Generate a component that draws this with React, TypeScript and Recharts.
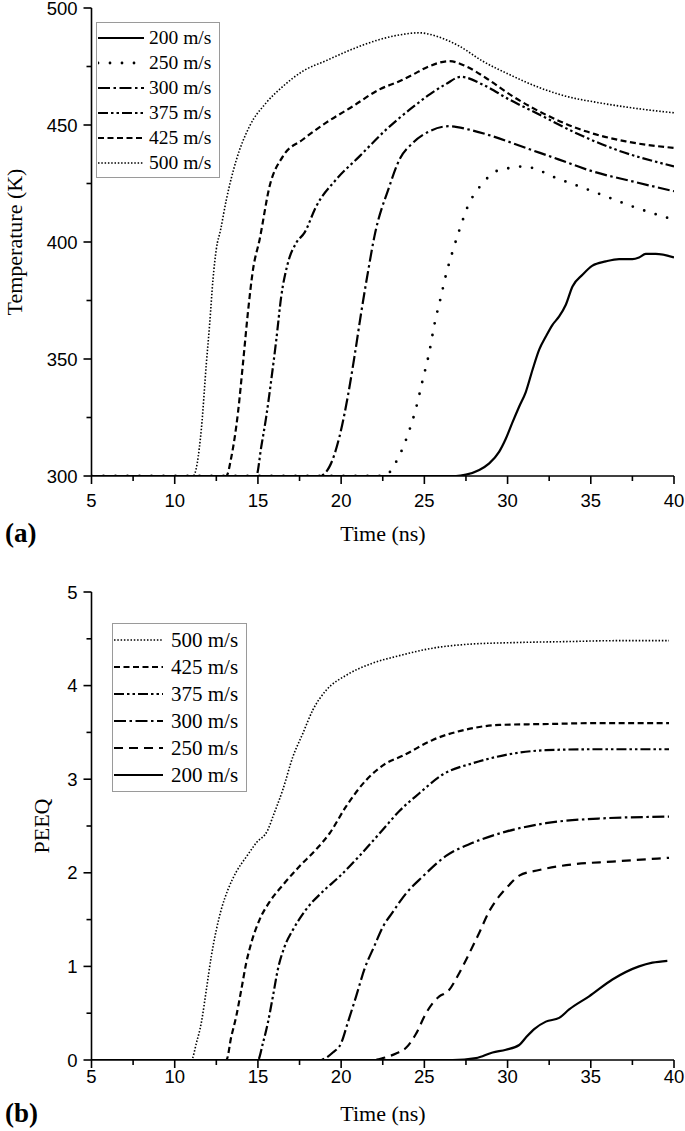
import React from "react";
import { LineChart, Line, XAxis, YAxis, Legend, Label } from "recharts";

type Pt = [number, number];

// ticks
const timeMajorTicks = [5, 10, 15, 20, 25, 30, 35, 40];
const timeMinorTicks = [7.5, 12.5, 17.5, 22.5, 27.5, 32.5, 37.5];
const tempMajorTicks = [300, 350, 400, 450, 500];
const tempMinorTicks = [325, 375, 425, 475];
const peeqMajorTicks = [0, 1, 2, 3, 4, 5];
const peeqMinorTicks = [0.5, 1.5, 2.5, 3.5, 4.5];

// (a) temperature vs time, [ns, K]
const temp200: Pt[] = [
  [5, 300], [26.9, 300], [27.5, 300.6], [28.3, 302.6], [28.9, 305.4], [29.5, 310.4], [29.9, 316],
  [30.3, 323], [30.7, 329.7], [31.1, 336], [31.5, 345.4], [31.9, 354], [32.3, 359.6], [32.7, 364.6],
  [33.1, 368.2], [33.5, 373.2], [33.9, 381], [34.5, 386], [35.1, 389.9], [35.9, 391.7], [36.7, 392.7],
  [37.5, 392.7], [37.9, 393.4], [38.3, 394.9], [38.9, 394.9], [40, 393.4],
];
const temp250: Pt[] = [
  [5, 300], [22.6, 300], [23.3, 306], [24.0, 317.5], [24.5, 329], [24.9, 341], [25.3, 353], [25.6, 364.6],
  [26.0, 376.7], [26.3, 386], [26.7, 396], [27.1, 405], [27.7, 416.7], [28.2, 422.4], [28.7, 426.7],
  [29.3, 430.2], [30.2, 431.7], [31.0, 432.3], [31.8, 430.9], [32.7, 428], [34.3, 423.8], [35.9, 419.5],
  [37.5, 415.2], [40, 409.5],
];
const temp300: Pt[] = [
  [5, 300], [18.7, 300], [19.3, 304], [19.9, 316.8], [20.4, 334], [20.8, 351], [21.2, 369.6], [21.6, 386.7],
  [22.0, 402.4], [22.9, 423.8], [23.5, 435.2], [24.3, 442.3], [25.3, 447.3], [26.5, 449.5], [27.7, 448],
  [29.1, 445.2], [31.1, 440.2], [33.1, 435.2], [35.1, 430.2], [37.5, 425.9], [40, 421.7],
];
const temp375: Pt[] = [
  [5, 300], [14.9, 300], [15.2, 312.5], [15.5, 325.4], [15.8, 341], [16.1, 358], [16.4, 376.7], [16.8, 391],
  [17.3, 399.6], [17.8, 404], [18.5, 415.2], [19.7, 426.7], [21.1, 436.6], [22.7, 448], [23.5, 453],
  [24.5, 458.7], [25.3, 463], [26.3, 467.5], [27.2, 470.6], [28.5, 467.3], [30.1, 460.9], [31.9, 454.5],
  [34.1, 446.6], [36.5, 439.5], [40, 432.3],
];
const temp425: Pt[] = [
  [5, 300], [13.1, 300], [13.4, 308], [13.8, 327], [14.1, 348], [14.4, 370], [14.7, 388], [15.1, 401],
  [15.7, 423.8], [16.5, 436.6], [17.7, 443.8], [19.1, 451], [20.7, 458], [22.3, 465.2], [23.5, 468.7],
  [24.3, 471.5], [25.1, 474.5], [26.5, 477.3], [27.5, 475.1], [28.7, 470.1], [30.3, 462.3], [32.5, 453.7],
  [34.7, 447.3], [37.1, 443], [40, 440.2],
];
const temp500: Pt[] = [
  [5, 300], [11.1, 300], [11.6, 320], [11.9, 348], [12.1, 365], [12.3, 384], [12.5, 397], [12.75, 405],
  [13.1, 418], [13.7, 435], [14.5, 449.5], [15.5, 459.5], [16.5, 466.5], [17.7, 473], [19.1, 477.5],
  [20.7, 482.5], [22.3, 486.5], [23.5, 488.5], [24.7, 489.4], [25.7, 488], [27.1, 483.7], [28.5, 477.3],
  [30.1, 471.6], [31.9, 466], [33.5, 462.3], [35.5, 459.5], [37.5, 457.3], [40, 455.2],
];

// (b) PEEQ vs time, [ns, -]
const peeq200: Pt[] = [
  [5, 0], [26.7, 0], [28.1, 0.02], [29.1, 0.08], [29.9, 0.11], [30.7, 0.16], [31.1, 0.24], [31.6, 0.33],
  [32.3, 0.41], [33.1, 0.45], [33.7, 0.54], [34.9, 0.68], [36.3, 0.86], [37.9, 1.0], [38.7, 1.04], [39.6, 1.06],
];
const peeq250: Pt[] = [
  [5, 0], [21.9, 0], [22.5, 0.02], [23.3, 0.07], [23.9, 0.13], [24.5, 0.28], [25.1, 0.5], [25.9, 0.68],
  [26.4, 0.73], [27.1, 0.93], [27.7, 1.14], [28.3, 1.36], [28.9, 1.59], [29.5, 1.75], [30.1, 1.87],
  [30.7, 1.97], [31.9, 2.03], [33.9, 2.09], [36.3, 2.12], [39.7, 2.16],
];
const peeq300: Pt[] = [
  [5, 0], [18.7, 0], [19.5, 0.08], [20.0, 0.18], [20.4, 0.4], [20.9, 0.68], [21.4, 0.97], [22.0, 1.22],
  [22.5, 1.42], [23.1, 1.58], [23.9, 1.78], [24.9, 1.96], [26.3, 2.18], [27.9, 2.32], [29.9, 2.44],
  [32.3, 2.53], [35.5, 2.58], [39.7, 2.6],
];
const peeq375: Pt[] = [
  [5, 0], [15.0, 0], [15.3, 0.18], [15.6, 0.4], [15.9, 0.68], [16.2, 0.97], [16.6, 1.21], [17.1, 1.39],
  [17.9, 1.61], [18.9, 1.8], [19.9, 1.96], [21.1, 2.18], [22.5, 2.46], [23.5, 2.66], [24.7, 2.85],
  [26.1, 3.05], [27.9, 3.17], [29.9, 3.26], [32.3, 3.31], [35.1, 3.32], [39.7, 3.32],
];
const peeq425: Pt[] = [
  [5, 0], [13.1, 0], [13.4, 0.25], [13.7, 0.47], [14.0, 0.75], [14.3, 1.04], [14.6, 1.25], [15.1, 1.5],
  [15.7, 1.69], [16.5, 1.87], [17.5, 2.07], [18.5, 2.25], [19.3, 2.42], [20.3, 2.71], [21.5, 2.99],
  [22.7, 3.17], [23.7, 3.25], [25.5, 3.42], [27.5, 3.53], [29.5, 3.58], [32.5, 3.59], [35.5, 3.6], [39.7, 3.6],
];
const peeq500: Pt[] = [
  [5, 0], [11.0, 0], [11.3, 0.18], [11.6, 0.4], [11.9, 0.75], [12.2, 1.11], [12.5, 1.39], [12.8, 1.61],
  [13.2, 1.82], [13.7, 2.01], [14.3, 2.17], [14.9, 2.32], [15.6, 2.46], [15.9, 2.6], [16.5, 2.89],
  [17.1, 3.24], [17.7, 3.49], [18.3, 3.74], [19.1, 3.95], [20.3, 4.11], [21.9, 4.24], [23.5, 4.32],
  [25.5, 4.4], [27.5, 4.44], [30.5, 4.46], [33.5, 4.47], [36.5, 4.48], [39.7, 4.48],
];

const SANS = "'Liberation Sans', Arial, sans-serif";
const SERIF = "'Liberation Serif', 'Times New Roman', serif";

interface Style {
  dash?: string;
  width: number;
  cap?: "round" | "butt";
}

const solid: Style = { width: 2.2 };
const sparseDots: Style = { dash: "0 12", width: 2.8, cap: "round" };
const longDash: Style = { dash: "9 6", width: 2.2 };
const dashDot: Style = { dash: "12 3.5 2.5 3.5", width: 2.2 };
const dashDotDot: Style = { dash: "10 3 2.5 3 2.5 3", width: 2.2 };
const shortDash: Style = { dash: "6 3.5", width: 2.2 };
const fineDots: Style = { dash: "1.5 1.8", width: 1.6 };

interface Series {
  name: string;
  pts: Pt[];
  style: Style;
}

const tempSeries: Series[] = [
  { name: "200 m/s", pts: temp200, style: solid },
  { name: "250 m/s", pts: temp250, style: sparseDots },
  { name: "300 m/s", pts: temp300, style: dashDot },
  { name: "375 m/s", pts: temp375, style: dashDotDot },
  { name: "425 m/s", pts: temp425, style: shortDash },
  { name: "500 m/s", pts: temp500, style: fineDots },
];

const peeqSeries: Series[] = [
  { name: "500 m/s", pts: peeq500, style: fineDots },
  { name: "425 m/s", pts: peeq425, style: shortDash },
  { name: "375 m/s", pts: peeq375, style: dashDotDot },
  { name: "300 m/s", pts: peeq300, style: dashDot },
  { name: "250 m/s", pts: peeq250, style: longDash },
  { name: "200 m/s", pts: peeq200, style: solid },
];

const toRows = (pts: Pt[]) => pts.map(([t, v]) => ({ t, v }));

function makeXTick(labelDy: number) {
  return (props: any) => {
    const { x, y, payload } = props;
    const major = timeMajorTicks.includes(payload.value);
    return (
      <g>
        <line x1={x} x2={x} y1={y} y2={y + (major ? 8 : 5)} stroke="#000" strokeWidth={1.6} />
        {major && (
          <text x={x} y={y + labelDy} textAnchor="middle" fontFamily={SANS} fontSize={18.5} fill="#000">
            {payload.value}
          </text>
        )}
      </g>
    );
  };
}

function makeYTick(majors: number[]) {
  return (props: any) => {
    const { x, y, payload } = props;
    const major = majors.includes(payload.value);
    return (
      <g>
        <line x1={x} x2={x - (major ? 8 : 5)} y1={y} y2={y} stroke="#000" strokeWidth={1.6} />
        {major && (
          <text x={x - 14} y={y + 6.5} textAnchor="end" fontFamily={SANS} fontSize={18.5} fill="#000">
            {payload.value}
          </text>
        )}
      </g>
    );
  };
}

function LegendBox({
  items,
  rowH,
  sampleW,
  gap,
  fontSize,
  padTop,
}: {
  items: Series[];
  rowH: number;
  sampleW: number;
  gap: number;
  fontSize: number;
  padTop: number;
}) {
  return (
    <div
      style={{
        border: "1px solid #9a9a9a",
        background: "#fff",
        padding: `${padTop}px 8px ${padTop}px 1px`,
        fontFamily: SERIF,
        fontSize,
        color: "#000",
        lineHeight: 1,
      }}
    >
      {items.map((s) => (
        <div key={s.name} style={{ display: "flex", alignItems: "center", height: rowH, whiteSpace: "nowrap" }}>
          <svg width={sampleW} height={8} style={{ marginRight: gap, display: "block" }}>
            <line
              x1={0}
              x2={sampleW}
              y1={4}
              y2={4}
              stroke="#000"
              strokeWidth={s.style.width}
              strokeDasharray={s.style.dash}
              strokeLinecap={s.style.cap ?? "butt"}
            />
          </svg>
          <span>{s.name}</span>
        </div>
      ))}
    </div>
  );
}

function Panel({
  series,
  plotTop,
  yDomain,
  yTicks,
  yMajors,
  yTitle,
  yTitleX,
  tag,
  titleY,
  tickDy,
  legend,
}: {
  series: Series[];
  plotTop: number;
  yDomain: [number, number];
  yTicks: number[];
  yMajors: number[];
  yTitle: string;
  yTitleX: number;
  tag: string;
  titleY: number;
  tickDy: number;
  legend: React.ReactNode;
}) {
  const plotH = 468;
  const h = plotTop + plotH + 84;
  return (
    <LineChart width={685} height={h} margin={{ top: plotTop, right: 11, bottom: 0, left: 0 }}>
      <XAxis
        dataKey="t"
        type="number"
        domain={[5, 40]}
        ticks={[...timeMajorTicks, ...timeMinorTicks].sort((a, b) => a - b)}
        interval={0}
        height={84}
        tickSize={0}
        tickMargin={0}
        tickLine={false}
        axisLine={{ stroke: "#000", strokeWidth: 1.6 }}
        tick={makeXTick(tickDy)}
        allowDataOverflow
      >
        <Label
          content={() => (
            <g>
              <text x={383} y={plotTop + plotH + titleY} textAnchor="middle" fontFamily={SERIF} fontSize={22} fill="#000">
                Time (ns)
              </text>
              <text x={5} y={plotTop + plotH + titleY + 1} fontFamily={SERIF} fontSize={27} fontWeight="bold" fill="#000">
                {tag}
              </text>
            </g>
          )}
        />
      </XAxis>
      <YAxis
        type="number"
        domain={yDomain}
        ticks={[...yTicks]}
        interval={0}
        width={91.5}
        tickSize={0}
        tickMargin={0}
        tickLine={false}
        axisLine={{ stroke: "#000", strokeWidth: 1.6 }}
        tick={makeYTick(yMajors)}
        allowDataOverflow
      >
        <Label
          content={() => (
            <text
              x={yTitleX}
              y={plotTop + plotH / 2}
              transform={`rotate(-90 ${yTitleX} ${plotTop + plotH / 2})`}
              textAnchor="middle"
              dominantBaseline="central"
              fontFamily={SERIF}
              fontSize={22}
              fill="#000"
            >
              {yTitle}
            </text>
          )}
        />
      </YAxis>
      <Legend
        layout="horizontal"
        verticalAlign="middle"
        align="center"
        content={() => legend}
        wrapperStyle={{ position: "absolute", left: 0, top: 0, width: "auto", height: "auto" }}
      />
      {series.map((s) => (
        <Line
          key={s.name}
          name={s.name}
          data={toRows(s.pts)}
          dataKey="v"
          type="monotone"
          stroke="#000"
          strokeWidth={s.style.width}
          strokeDasharray={s.style.dash}
          strokeLinecap={s.style.cap ?? "butt"}
          dot={false}
          activeDot={false}
          isAnimationActive={false}
        />
      ))}
    </LineChart>
  );
}

export default function App() {
  return (
    <div style={{ position: "absolute", left: 0, top: 0, width: 685, height: 1131, background: "#fff", overflow: "hidden" }}>
      <div style={{ position: "absolute", left: 0, top: 0 }}>
        <Panel
          series={tempSeries}
          plotTop={8}
          yDomain={[300, 500]}
          yTicks={[...tempMajorTicks, ...tempMinorTicks].sort((a, b) => a - b)}
          yMajors={tempMajorTicks}
          yTitle="Temperature (K)"
          yTitleX={14}
          tag="(a)"
          titleY={65}
          tickDy={31}
          legend={
            <div style={{ position: "absolute", left: 96, top: 22 }}>
              <LegendBox items={tempSeries} rowH={25} sampleW={46} gap={5} fontSize={19.5} padTop={2} />
            </div>
          }
        />
      </div>
      <div style={{ position: "absolute", left: 0, top: 572 }}>
        <Panel
          series={peeqSeries}
          plotTop={20}
          yDomain={[0, 5]}
          yTicks={[...peeqMajorTicks, ...peeqMinorTicks].sort((a, b) => a - b)}
          yMajors={peeqMajorTicks}
          yTitle="PEEQ"
          yTitleX={41}
          tag="(b)"
          titleY={61}
          tickDy={23}
          legend={
            <div style={{ position: "absolute", left: 112, top: 51 }}>
              <LegendBox items={peeqSeries} rowH={27} sampleW={49} gap={8} fontSize={21} padTop={2.5} />
            </div>
          }
        />
      </div>
    </div>
  );
}
